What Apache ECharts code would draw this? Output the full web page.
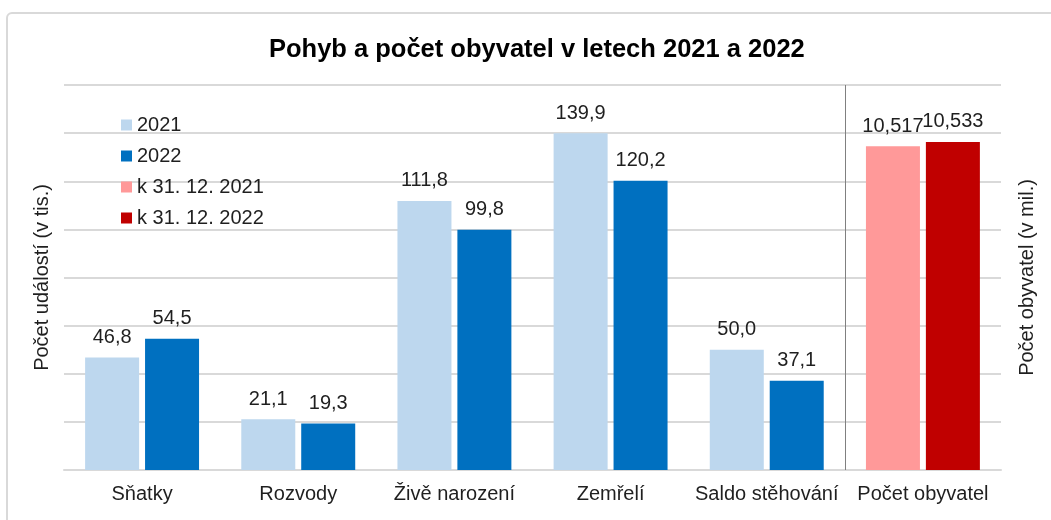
<!DOCTYPE html>
<html>
<head>
<meta charset="utf-8">
<script src="https://cdn.jsdelivr.net/npm/echarts@6/dist/echarts.min.js"></script>
<style>
  html, body { margin: 0; padding: 0; background: #fff; overflow: hidden; }
  #chart { position: absolute; left: 0; top: 0; width: 1051px; height: 520px; }
  #frame { position: absolute; left: 6px; top: 12px; width: 1080px; height: 540px;
           border: 2px solid #d9d9d9; border-radius: 6px; pointer-events: none; }
</style>
</head>
<body>
<div id="chart"></div>
<div id="frame"></div>
<script>
  // kategorie
  var categories = ['Sňatky', 'Rozvody', 'Živě narození', 'Zemřelí', 'Saldo stěhování', 'Počet obyvatel'];
  // události v tis.
  var events2021 = [46.8, 21.1, 111.8, 139.9, 50.0, '-'];
  var events2022 = [54.5, 19.3, 99.8, 120.2, 37.1, '-'];
  // počet obyvatel v mil.
  var pop2021 = ['-', '-', '-', '-', '-', 10.517];
  var pop2022 = ['-', '-', '-', '-', '-', 10.533];

  var textColor = '#1f1f1f';
  var font = 'Arial, "Liberation Sans", sans-serif';

  var myChart = echarts.init(document.getElementById('chart'));

  function fmt(digits) {
    return function (p) { return p.value.toFixed(digits).replace('.', ','); };
  }

  function barSeries(name, data, color, xi, yi, digits) {
    return {
      name: name,
      type: 'bar',
      xAxisIndex: xi,
      yAxisIndex: yi,
      data: data,
      barWidth: 54,
      barGap: '11%',
      itemStyle: { color: color },
      label: {
        show: true,
        position: 'top',
        distance: 10,
        color: textColor,
        fontSize: 20,
        fontFamily: font,
        formatter: fmt(digits)
      }
    };
  }

  myChart.setOption({
    animation: false,
    title: {
      text: 'Pohyb a počet obyvatel v letech 2021 a 2022',
      left: 264,
      top: 32,
      textStyle: { fontSize: 25.5, fontWeight: 'bold', color: '#000', fontFamily: font }
    },
    legend: {
      orient: 'vertical',
      left: 116,
      top: 110,
      itemWidth: 11,
      itemHeight: 11,
      itemGap: 11,
      icon: 'rect',
      textStyle: { fontSize: 20, color: textColor, fontFamily: font },
      data: ['2021', '2022', 'k 31. 12. 2021', 'k 31. 12. 2022']
    },
    grid: { left: 64, right: 50, top: 85, bottom: 50 },
    xAxis: [
      {
        type: 'category',
        data: categories,
        axisTick: { show: false },
        axisLine: { lineStyle: { color: '#d9d9d9', width: 2 } },
        axisLabel: { interval: 0, margin: 14, fontSize: 20, color: textColor, fontFamily: font }
      },
      {
        type: 'category',
        data: categories,
        show: false
      },
      {
        // pomocná osa pro svislou dělicí čáru (hranice kategorií)
        type: 'value',
        min: 0,
        max: categories.length,
        show: false
      }
    ],
    yAxis: [
      {
        type: 'value',
        min: 0,
        max: 160,
        interval: 20,
        name: 'Počet událostí (v tis.)',
        nameLocation: 'middle',
        nameGap: 12,
        nameTextStyle: { fontSize: 20, color: textColor, fontFamily: font },
        axisLabel: { show: false },
        axisLine: { show: false },
        axisTick: { show: false },
        splitLine: { lineStyle: { color: '#d9d9d9', width: 2 } }
      },
      {
        type: 'value',
        min: 9.34,
        max: 10.74,
        name: 'Počet obyvatel (v mil.)',
        nameLocation: 'middle',
        nameGap: 16,
        nameTextStyle: { fontSize: 20, color: textColor, fontFamily: font },
        axisLabel: { show: false },
        axisLine: { show: false },
        axisTick: { show: false },
        splitLine: { show: false }
      }
    ],
    series: [
      barSeries('2021', events2021, '#bdd7ee', 0, 0, 1),
      barSeries('2022', events2022, '#0070c0', 0, 0, 1),
      barSeries('k 31. 12. 2021', pop2021, '#ff9999', 1, 1, 3),
      barSeries('k 31. 12. 2022', pop2022, '#c00000', 1, 1, 3),
      {
        name: 'oddělovač',
        type: 'line',
        xAxisIndex: 2,
        yAxisIndex: 0,
        data: [],
        silent: true,
        markLine: {
          silent: true,
          symbol: 'none',
          label: { show: false },
          lineStyle: { color: '#808080', width: 1, type: 'solid' },
          data: [{ xAxis: 5 }]
        }
      }
    ]
  });
  window.onresize = myChart.resize;
</script>
</body>
</html>
